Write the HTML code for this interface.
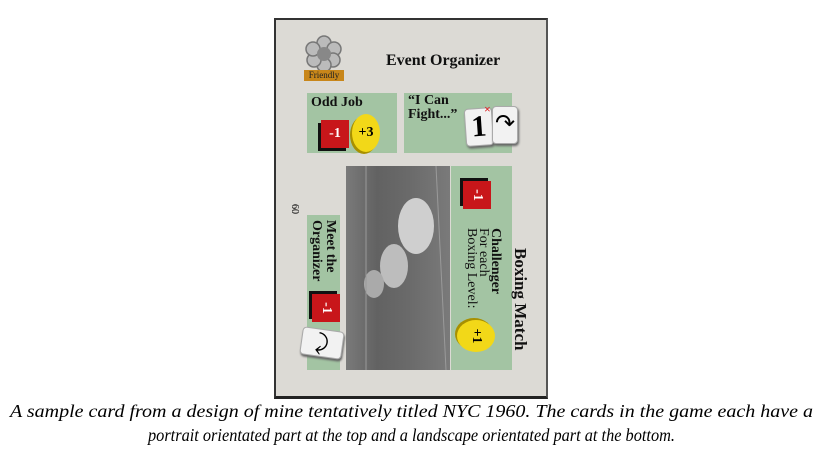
<!DOCTYPE html>
<html><head><style>
body{margin:0;width:823px;height:455px;background:#fff;position:relative;overflow:hidden;font-family:"Liberation Serif",serif}
.a{position:absolute}
.card{left:274px;top:18px;width:270px;height:376px;background:#dcdad5;border:2px solid #333;border-right-color:#555;border-bottom:3px solid #222}
.g{background:#a3c4a3}
.red{background:#c8161a;color:#fff;font-weight:bold;font-size:14px;text-align:center;box-shadow:-3px 3px 0 #111}
.yel{background:#f2d818;border-radius:50%;font-weight:bold;font-size:14px;text-align:center;box-shadow:-2px 2px 0 #a89000}
.wt{background:#f2f2f2;border-radius:4px;border:1px solid #aaa;box-shadow:1px 2px 2px #666;text-align:center}
.b{font-weight:bold;color:#111}
.rot{transform-origin:0 0}
</style></head><body>
<div class="a card"></div>
<svg class="a" style="left:300px;top:34px" width="48" height="44">
<g fill="#bbb" stroke="#777" stroke-width="1.5">
<circle cx="24" cy="9" r="7"/><circle cx="34" cy="15" r="7"/><circle cx="33" cy="26" r="7"/><circle cx="24" cy="31" r="7"/><circle cx="14" cy="26" r="7"/><circle cx="13" cy="15" r="7"/></g>
<circle cx="24" cy="20" r="7" fill="#888"/>
</svg>
<div class="a" style="left:304px;top:70px;width:40px;height:11px;background:#c8861a;font-size:9px;line-height:11px;text-align:center;color:#222">Friendly</div>
<div class="a b" style="left:386px;top:52px;font-size:16px">Event Organizer</div>
<div class="a g" style="left:307px;top:93px;width:90px;height:60px"></div>
<div class="a b" style="left:311px;top:95px;font-size:14px">Odd Job</div>
<div class="a red" style="left:321px;top:120px;width:28px;height:28px;line-height:28px">-1</div>
<div class="a yel" style="left:352px;top:114px;width:28px;height:38px;line-height:38px">+3</div>
<div class="a g" style="left:404px;top:93px;width:108px;height:60px"></div>
<div class="a b" style="left:408px;top:94px;font-size:14px;line-height:14px">“I Can<br>Fight...”</div>
<div class="a wt" style="left:465px;top:108px;width:26px;height:36px;font-size:30px;line-height:36px;font-weight:bold;transform:rotate(-4deg)">1</div>
<div class="a" style="left:484px;top:102px;color:#d22;font-size:12px;font-weight:bold">×</div>
<div class="a wt" style="left:492px;top:106px;width:24px;height:36px;font-size:24px;line-height:34px">↷</div>
<div class="a" style="left:346px;top:166px;width:104px;height:204px;background:linear-gradient(90deg,#7a7a7a 0%,#626262 30%,#6a6a6a 60%,#7a7a7a 100%)"></div>
<svg class="a" style="left:346px;top:166px" width="104" height="204">
<ellipse cx="70" cy="60" rx="18" ry="28" fill="#cfcfcf"/>
<ellipse cx="48" cy="100" rx="14" ry="22" fill="#bdbdbd"/>
<ellipse cx="28" cy="118" rx="10" ry="14" fill="#aaa"/>
<line x1="20" y1="0" x2="20" y2="204" stroke="#999"/>
<line x1="90" y1="0" x2="100" y2="204" stroke="#9a9a9a"/>
</svg>
<div class="a g" style="left:451px;top:166px;width:61px;height:204px"></div>
<div class="a red" style="left:463px;top:181px;width:28px;height:28px;line-height:28px;transform:rotate(90deg)">-1</div>
<div class="a b rot" style="left:530px;top:248px;font-size:17px;transform:rotate(90deg);white-space:nowrap">Boxing Match</div>
<div class="a rot" style="left:501px;top:228px;font-size:14px;line-height:12px;transform:rotate(90deg);white-space:nowrap;color:#111"><b>Challenger</b><br>For each<br>Boxing Level:</div>
<div class="a yel" style="left:460px;top:317px;width:32px;height:38px;line-height:38px;transform:rotate(90deg)">+1</div>
<div class="a g" style="left:307px;top:215px;width:33px;height:155px"></div>
<div class="a b rot" style="left:337px;top:220px;font-size:14px;line-height:14px;transform:rotate(90deg);white-space:nowrap">Meet the<br>Organizer</div>
<div class="a red" style="left:312px;top:294px;width:28px;height:28px;line-height:28px;transform:rotate(90deg)">-1</div>
<div class="a wt" style="left:301px;top:329px;width:40px;height:26px;font-size:22px;line-height:26px;transform:rotate(8deg)">⤸</div>
<div class="a rot" style="left:300px;top:204px;font-size:10px;transform:rotate(90deg)">60</div>
<svg class="a" style="left:0;top:0" width="823" height="455">
<text x="10" y="417" font-family="Liberation Serif" font-style="italic" font-size="18" textLength="803" lengthAdjust="spacingAndGlyphs">A sample card from a design of mine tentatively titled NYC 1960. The cards in the game each have a</text>
<text x="148" y="441" font-family="Liberation Serif" font-style="italic" font-size="18" textLength="527" lengthAdjust="spacingAndGlyphs">portrait orientated part at the top and a landscape orientated part at the bottom.</text>
</svg>
</body></html>
